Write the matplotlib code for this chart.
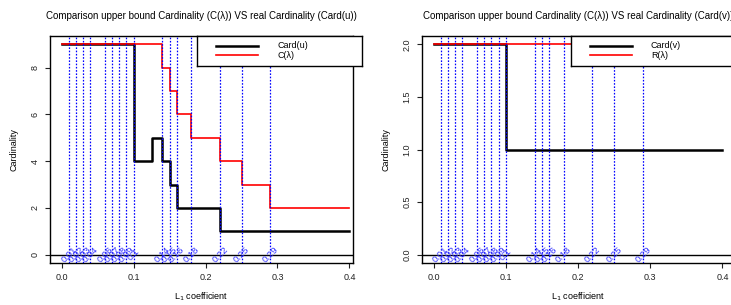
import matplotlib
matplotlib.use("Agg")
import matplotlib.pyplot as plt
from matplotlib.lines import Line2D

plt.rcParams['font.family'] = ['Liberation Sans', 'DejaVu Sans']

# Data
lambdas = [0.01, 0.02, 0.03, 0.04, 0.06, 0.07, 0.08, 0.09, 0.1,
           0.14, 0.15, 0.16, 0.18, 0.22, 0.25, 0.29]
lambda_labels = ["0.01", "0.02", "0.03", "0.04", "0.06", "0.07", "0.08", "0.09", "0.1",
                 "0.14", "0.15", "0.16", "0.18", "0.22", "0.25", "0.29"]

card_u_x = [0, 0.1, 0.125, 0.14, 0.15, 0.16, 0.22, 0.4]
card_u_y = [9, 4, 5, 4, 3, 2, 1, 1]
c_lam_x = [0, 0.14, 0.15, 0.16, 0.18, 0.22, 0.25, 0.29, 0.4]
c_lam_y = [9, 8, 7, 6, 5, 4, 3, 2, 2]

card_v_x = [0, 0.1, 0.4]
card_v_y = [2, 1, 1]
r_lam_x = [0, 0.4]
r_lam_y = [2, 2]

W, H = 731, 305
fig = plt.figure(figsize=(W / 100, H / 100), dpi=100)

def px_ax(l, r, t, b):
    return fig.add_axes([l / W, (H - b) / H, (r - l) / W, (b - t) / H])

def style(ax, yticks, yticklabels, xlim, ylim):
    ax.set_xlim(*xlim)
    ax.set_ylim(*ylim)
    ax.set_xticks([0, 0.1, 0.2, 0.3, 0.4])
    ax.set_xticklabels(["0.0", "0.1", "0.2", "0.3", "0.4"])
    ax.set_yticks(yticks)
    ax.set_yticklabels(yticklabels, rotation=90, va='center')
    ax.tick_params(direction='out', length=3.5, width=0.8, labelsize=6.5, pad=4,
                   colors='#222222')
    for s in ax.spines.values():
        s.set_linewidth(1.0)
    ax.set_xlabel("L$_1$ coefficient", fontsize=6.5, labelpad=6)
    ax.set_ylabel("Cardinality", fontsize=6.5, labelpad=9)

def draw(ax, x1, y1, x2, y2, title, names, legend_box):
    ax.axhline(0, color='black', lw=1.0)
    ax.step(x1, y1, where='post', color='black', lw=1.8, zorder=3)
    ax.step(x2, y2, where='post', color='red', lw=1.2, zorder=3)
    for lam in lambdas:
        ax.axvline(lam, color='blue', lw=0.9, ls=(0, (1.3, 1.3)), zorder=4)
    for lam, lab in zip(lambdas, lambda_labels):
        ax.text(lam, 0, lab, rotation=45, ha='center', va='center',
                color='#3333ff', fontsize=6.8, zorder=5)
    ax.set_title(title, fontsize=7, pad=12)
    # legend box in pixel coords
    l, r, t, b = legend_box
    lax = fig.add_axes([l / W, (H - b) / H, (r - l) / W, (b - t) / H])
    lax.set_xlim(l, r)
    lax.set_ylim(b, t)
    lax.set_xticks([])
    lax.set_yticks([])
    for s in lax.spines.values():
        s.set_linewidth(1.0)
    lax.set_facecolor('white')
    rows = [t + 10, t + 19]
    cols = ['black', 'red']
    lws = [1.8, 1.2]
    for yy, c, lw, nm in zip(rows, cols, lws, names):
        lax.add_line(Line2D([l + 19, l + 61], [yy, yy], color=c, lw=lw))
        lax.text(l + 80, yy, nm, fontsize=6.5, va='center', ha='left')

ax1 = px_ax(50, 353, 36, 263)
style(ax1, [0, 2, 4, 6, 8], ["0", "2", "4", "6", "8"], (-0.0163, 0.405), (-0.36, 9.36))
draw(ax1, card_u_x, card_u_y, c_lam_x, c_lam_y,
     "Comparison upper bound Cardinality (C(\u03bb)) VS real Cardinality (Card(u))",
     ["Card(u)", "C(\u03bb)"], (197, 362, 36, 66))

ax2 = px_ax(422, 734, 36, 263)
style(ax2, [0, 0.5, 1.0, 1.5, 2.0], ["0.0", "0.5", "1.0", "1.5", "2.0"], (-0.016, 0.416), (-0.08, 2.08))
draw(ax2, card_v_x, card_v_y, r_lam_x, r_lam_y,
     "Comparison upper bound Cardinality (C(\u03bb)) VS real Cardinality (Card(v))",
     ["Card(v)", "R(\u03bb)"], (571, 745, 36, 66))

fig.savefig("out.png", dpi=100)
